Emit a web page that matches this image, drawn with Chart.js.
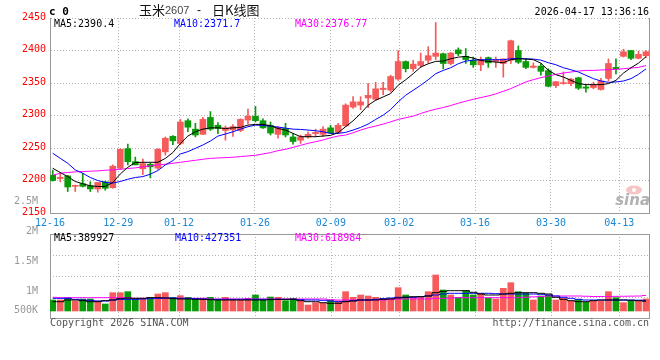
<!DOCTYPE html>
<html>
<head>
<meta charset="utf-8">
<script src="https://cdn.jsdelivr.net/npm/chart.js@4.4.1/dist/chart.umd.min.js"></script>
<style>
html,body{margin:0;padding:0;background:#fff;}
#wrap{position:relative;width:660px;height:360px;overflow:hidden;background:#fff;}
#wrap canvas{position:absolute;left:0;top:0;}
</style>
</head>
<body>
<div id="wrap">
<canvas id="pc" width="660" height="360"></canvas>
<canvas id="vc" width="660" height="360"></canvas>
</div>
<script>
// ---------------- data ----------------
const TITLE_NAME = '玉米';
const TITLE_CODE = '2607';
const TITLE_KIND = '日K线图';
const TIMESTAMP = '2026-04-17 13:36:16';

const DATE_TICK_LABELS = ['12-16','12-29','01-12','01-26','02-09','03-02','03-16','03-30','04-13'];
const DATE_TICK_INDEX  = [0, 9, 17, 27, 37, 46, 56, 66, 75];

const OPEN = [2208,2203,2207,2191,2195,2192,2187,2198,2189,2219,
 2249,2229,2218,2225,2219,2244,2268,2257,2292,2279,
 2271,2297,2285,2277,2278,2277,2293,2299,2292,2285,
 2271,2280,2267,2262,2267,2272,2271,2281,2274,2284,
 2313,2316,2327,2325,2340,2339,2356,2383,2372,2377,
 2385,2391,2395,2380,2401,2391,2385,2378,2389,2383,
 2380,2385,2400,2383,2374,2376,2369,2346,2349,2349,
 2358,2344,2343,2340,2357,2374,2391,2400,2388,2392];
const HIGH = [2216,2212,2208,2193,2211,2198,2197,2199,2224,2249,
 2256,2236,2233,2227,2249,2267,2269,2294,2295,2288,
 2297,2306,2289,2284,2286,2295,2310,2314,2295,2290,
 2283,2288,2272,2270,2275,2279,2283,2285,2288,2318,
 2329,2329,2349,2351,2351,2362,2400,2384,2385,2396,
 2406,2443,2396,2397,2404,2403,2390,2390,2390,2390,
 2387,2416,2407,2387,2381,2380,2372,2352,2367,2357,
 2359,2348,2351,2357,2387,2387,2402,2400,2399,2400];
const LOW = [2199,2198,2183,2183,2190,2183,2182,2185,2188,2217,
 2224,2224,2209,2204,2217,2239,2255,2255,2275,2267,
 2271,2277,2272,2262,2268,2275,2287,2290,2280,2270,
 2265,2267,2256,2257,2265,2267,2268,2272,2272,2283,
 2311,2309,2312,2323,2332,2336,2354,2367,2368,2374,
 2381,2386,2372,2378,2392,2380,2374,2369,2374,2374,
 2359,2380,2380,2372,2373,2362,2344,2343,2348,2346,
 2340,2336,2341,2339,2353,2364,2390,2386,2387,2389];
const CLOSE = [2200,2205,2190,2192,2191,2187,2197,2188,2222,2248,
 2229,2224,2226,2221,2248,2265,2261,2290,2282,2270,
 2294,2279,2280,2281,2283,2294,2299,2292,2281,2273,
 2281,2270,2260,2267,2271,2274,2279,2273,2285,2316,
 2321,2321,2331,2341,2342,2360,2383,2372,2379,2383,
 2392,2396,2380,2396,2395,2386,2378,2386,2381,2386,
 2387,2415,2382,2374,2376,2368,2345,2352,2350,2356,
 2342,2342,2347,2353,2380,2372,2398,2388,2394,2398];

const MA5 = [2218.9,2212.3,2206,2198.5,2195,2191.8,2190.8,2190.8,2197,2210,
 2220.4,2227.6,2228,2228,2228,2234,2243,2257,2268.4,2275,
 2279,2281,2281,2280,2281,2281.7,2285.2,2286.3,2286.3,2284.2,
 2280,2277.6,2272.5,2267.4,2267.4,2267.4,2268.4,2269.4,2273.5,2282.7,
 2291.9,2303,2315.8,2323.5,2328.6,2333.7,2346.5,2355,2364.3,2374.5,
 2379.6,2383.2,2383.7,2387.3,2389.8,2390.9,2388.3,2384.7,2383.2,2382.2,
 2381.2,2385.8,2387.3,2386.8,2385.8,2380.6,2369.4,2362.8,2359.2,2354.1,
 2349,2347.5,2347.5,2347.5,2349,2354.1,2365.3,2373.5,2380.6,2390.4];
const MA10 = [2241.9,2234.2,2226.5,2216.3,2211.2,2204.6,2200,2197,2196,2198.5,
 2202,2204.6,2206,2209.7,2215.3,2224,2230.6,2240.8,2244.4,2249.5,
 2254.6,2260.7,2268.4,2271.5,2275,2279,2282.7,2285.2,2284.7,2283.7,
 2282.2,2280.6,2279,2278.6,2277.6,2276.6,2275,2272.5,2272.5,2274,
 2277.6,2281.7,2286.8,2293.9,2300.5,2309.2,2321,2331.2,2338.8,2346.5,
 2355,2364.3,2369.4,2373.5,2379.6,2383.7,2385.2,2385.8,2385.8,2385.8,
 2385.8,2387.3,2387.8,2387.3,2386.8,2385.2,2381.2,2378.1,2373.5,2370.4,
 2366.9,2361.8,2356.7,2353.1,2351,2351.6,2353.1,2356.7,2363.3,2371.7];
const MA30 = [2208.2,2211.2,2212.3,2213.3,2213.8,2214.3,2214.8,2215.8,2216.3,2217.4,
 2218.4,2219.4,2221,2222.5,2224,2225,2226.5,2228,2229.6,2231.1,
 2232.7,2234,2234.7,2235.2,2235.8,2236.8,2237.8,2238.8,2240.8,2242.9,
 2245.9,2248,2251,2254.1,2257.2,2259.7,2262.3,2265.8,2268.4,2269.9,
 2273.5,2277.6,2281.1,2283.7,2286.8,2290.3,2293.9,2296.5,2299,2303.1,
 2306.7,2309.7,2312.3,2315.3,2318.9,2322,2325,2327.6,2330.1,2333.2,
 2337.3,2341.4,2346.5,2351.6,2355.1,2358.2,2360.8,2363.3,2365.3,2366.9,
 2368.4,2369.4,2369.4,2370,2370.5,2371,2372,2373,2374,2376.77];

const VOLUME = [440000,440000,533000,400000,480000,480000,400000,280000,733000,733000,
 773000,480000,480000,547000,680000,733000,547000,613000,547000,507000,
 507000,547000,440000,547000,440000,440000,507000,640000,440000,560000,
 547000,413000,507000,440000,240000,333000,307000,440000,400000,773000,
 547000,640000,600000,547000,507000,507000,933000,640000,547000,547000,
 773000,1440000,840000,640000,547000,813000,640000,707000,507000,480000,
 907000,1133000,773000,707000,440000,600000,640000,440000,507000,400000,
 467000,347000,400000,400000,773000,533000,333000,400000,400000,480000];
const VMA5 = [373000,373000,440000,440000,413000,373000,373000,413000,440000,493000,
 520000,507000,507000,533000,533000,520000,493000,480000,480000,467000,
 467000,453000,440000,440000,440000,440000,440000,440000,440000,453000,
 467000,467000,467000,413000,373000,373000,333000,307000,307000,373000,
 400000,440000,440000,440000,467000,480000,520000,547000,573000,573000,
 600000,733000,787000,813000,813000,813000,747000,680000,640000,640000,
 680000,707000,733000,733000,733000,707000,680000,547000,467000,413000,
 373000,373000,413000,440000,440000,440000,440000,427000,413000,389927];
const VMA10 = [507000,507000,507000,467000,440000,427000,400000,400000,440000,467000,
 467000,467000,480000,493000,507000,520000,520000,507000,507000,493000,
 480000,467000,467000,467000,467000,467000,467000,467000,467000,467000,
 467000,467000,467000,453000,440000,440000,427000,400000,373000,387000,
 413000,440000,440000,467000,493000,520000,547000,547000,547000,573000,
 600000,640000,680000,707000,707000,707000,707000,707000,707000,693000,
 680000,680000,680000,680000,680000,667000,640000,600000,547000,507000,
 467000,440000,440000,440000,440000,440000,440000,440000,433000,427351];
const VMA30 = [547000,533000,533000,533000,533000,533000,533000,533000,533000,533000,
 533000,507000,507000,507000,507000,507000,507000,507000,507000,507000,
 507000,480000,480000,480000,480000,480000,480000,480000,480000,480000,
 480000,480000,480000,480000,480000,480000,480000,453000,440000,440000,
 440000,440000,440000,440000,440000,460000,480000,480000,480000,480000,
 480000,507000,507000,520000,533000,533000,533000,533000,533000,533000,
 533000,533000,533000,547000,567000,580000,600000,600000,600000,600000,
 600000,590000,580000,580000,580000,585000,590000,595000,600000,618984];

const PRICE_MIN = 2150, PRICE_MAX = 2450, PRICE_STEP = 50;
const VOL_TICK_VALUES = [500000, 1000000, 1500000, 2000000, 2500000];
const VOL_TICK_LABELS = ['500K', '1M', '1.5M', '2M', '2.5M'];

// ---------------- styling / layout ----------------
const MONO = '"DejaVu Sans Mono", monospace';
const UP = '#f65a5a', DOWN = '#0a9a0a';
const GRID = '#b4b4b4', AXIS = '#999999';
const X_MIN = -0.36, X_MAX = 79.4, GRID_STRETCH = 1.0107;
const VOL_BOX_TOP = 234;
const tickValue = k => X_MIN + k * GRID_STRETCH;
const candleColors = OPEN.map((o, i) => CLOSE[i] >= o ? UP : DOWN);
const last = a => a[a.length - 1];

function txt(ctx, s, x, y, color, align, font) {
  ctx.save();
  ctx.font = font || ('10px ' + MONO);
  ctx.fillStyle = color;
  ctx.textAlign = align || 'left';
  ctx.textBaseline = 'middle';
  ctx.fillText(s, x, y);
  ctx.restore();
}

function xScaleOpts(display) {
  return {
    type: 'linear', min: X_MIN, max: X_MAX, offset: false, display: display,
    afterBuildTicks: s => { s.ticks = DATE_TICK_INDEX.map(k => ({ value: tickValue(k) })); },
    afterFit: s => { s.height = display ? 20 : 0; },
    ticks: {
      autoSkip: false, maxRotation: 0, padding: 4, color: '#1a88d4',
      font: { family: MONO, size: 10 },
      callback: (v, i) => DATE_TICK_LABELS[i]
    },
    grid: { color: GRID, drawTicks: false, offset: false },
    border: { color: AXIS, dash: [1, 2] }
  };
}

const priceDecor = {
  id: 'priceDecor',
  beforeDatasetsDraw(chart) {
    const { ctx, chartArea: a } = chart;
    ctx.save();
    ctx.fillStyle = 'rgba(240,150,150,0.55)';
    ctx.beginPath(); ctx.ellipse(a.right - 15, a.bottom - 23, 8, 4.5, 0, 0, Math.PI * 2); ctx.fill();
    ctx.fillStyle = '#fff';
    ctx.beginPath(); ctx.arc(a.right - 15, a.bottom - 23, 2, 0, Math.PI * 2); ctx.fill();
    ctx.font = 'italic bold 15px "DejaVu Sans"';
    ctx.fillStyle = 'rgba(165,165,165,0.85)';
    ctx.textAlign = 'right'; ctx.textBaseline = 'alphabetic';
    ctx.fillText('sina', a.right + 1, a.bottom - 8);
    ctx.restore();
  },
  afterDraw(chart) {
    const { ctx, chartArea: a } = chart;
    ctx.save();
    ctx.strokeStyle = AXIS; ctx.lineWidth = 1;
    ctx.beginPath(); ctx.moveTo(a.right + 0.5, a.top); ctx.lineTo(a.right + 0.5, a.bottom + 1); ctx.stroke();
    ctx.restore();
    // header
    txt(ctx, 'c 0', 49, 12, '#000', 'left', 'bold 11px ' + MONO);
    txt(ctx, TITLE_NAME, 139, 10, '#111', 'left', '13px "Noto Sans CJK SC"');
    txt(ctx, TITLE_CODE, 165, 11, '#444', 'left', '11px "Liberation Sans"');
    txt(ctx, '-', 197, 11, '#111', 'left', '12px "Liberation Sans"');
    txt(ctx, TITLE_KIND, 212, 10, '#111', 'left', '13px "Noto Sans CJK SC"');
    txt(ctx, TIMESTAMP, 649, 12, '#000', 'right');
    // MA legend
    txt(ctx, 'MA5:' + last(MA5), 54, 24.5, '#000');
    txt(ctx, 'MA10:' + last(MA10), 174, 24.5, '#0000ff');
    txt(ctx, 'MA30:' + last(MA30), 295, 24.5, '#ff00ff');
  }
};

const volDecor = {
  id: 'volDecor',
  beforeDatasetsDraw(chart) {
    const { ctx, chartArea: a } = chart;
    const xs = chart.scales.x;
    const top = VOL_BOX_TOP, bot = a.bottom;
    ctx.save();
    ctx.lineWidth = 1;
    ctx.strokeStyle = GRID; ctx.setLineDash([1, 2]);
    for (let k = 1; k < 4; k++) {
      const y = Math.round(top + (bot - top) * k / 4) + 0.5;
      ctx.beginPath(); ctx.moveTo(a.left, y); ctx.lineTo(a.right, y); ctx.stroke();
    }
    DATE_TICK_INDEX.forEach(k => {
      if (k === 0) return;
      const x = Math.round(xs.getPixelForValue(tickValue(k))) + 0.5;
      ctx.beginPath(); ctx.moveTo(x, top); ctx.lineTo(x, bot); ctx.stroke();
    });
    ctx.setLineDash([]);
    ctx.strokeStyle = AXIS;
    ctx.strokeRect(a.left + 0.5, top + 0.5, a.right - a.left, bot - top);
    ctx.restore();
  },
  afterDraw(chart) {
    const { ctx } = chart;
    txt(ctx, 'MA5:' + last(VMA5), 54, 238.5, '#000');
    txt(ctx, 'MA10:' + last(VMA10), 175, 238.5, '#0000ff');
    txt(ctx, 'MA30:' + last(VMA30), 295, 238.5, '#ff00ff');
    txt(ctx, 'Copyright 2026 SINA.COM', 50, 323.5, '#555');
    txt(ctx, 'http://finance.sina.com.cn', 649, 323.5, '#555', 'right');
  }
};

// ---------------- price chart ----------------
const xy = arr => arr.map((v, i) => ({ x: i, y: v }));

new Chart(document.getElementById('pc'), {
  type: 'bar',
  data: {
    datasets: [
      { type: 'line', label: 'MA5', data: xy(MA5), borderColor: '#000', borderWidth: 1, pointRadius: 0, tension: 0, order: 0 },
      { type: 'line', label: 'MA10', data: xy(MA10), borderColor: '#0000ff', borderWidth: 1, pointRadius: 0, tension: 0, order: 0 },
      { type: 'line', label: 'MA30', data: xy(MA30), borderColor: '#ff00ff', borderWidth: 1, pointRadius: 0, tension: 0, order: 0 },
      { type: 'bar', label: 'body', data: OPEN.map((o, i) => ({ x: i, y: [o, CLOSE[i]] })),
        backgroundColor: candleColors, borderWidth: 0, barThickness: 6, minBarLength: 1, grouped: false, order: 1 },
      { type: 'bar', label: 'wick', data: LOW.map((l, i) => ({ x: i, y: [l, HIGH[i]] })),
        backgroundColor: candleColors, borderWidth: 0, barThickness: 1, grouped: false, order: 2 }
    ]
  },
  options: {
    responsive: false, animation: false, devicePixelRatio: 1,
    layout: { padding: { left: 0, right: 11, top: 18, bottom: 127 } },
    plugins: { legend: { display: false }, tooltip: { enabled: false } },
    scales: {
      x: xScaleOpts(true),
      y: {
        type: 'linear', min: PRICE_MIN, max: PRICE_MAX,
        afterFit: s => { s.width = 50; },
        ticks: { stepSize: PRICE_STEP, color: '#ff0000', padding: 4, labelOffset: -1,
                 font: { family: MONO, size: 10 }, callback: v => String(v) },
        grid: { color: GRID, drawTicks: false },
        border: { color: AXIS, dash: [1, 2] }
      }
    }
  },
  plugins: [priceDecor]
});

// ---------------- volume chart ----------------
new Chart(document.getElementById('vc'), {
  type: 'bar',
  data: {
    datasets: [
      { type: 'line', data: xy(VMA5), yAxisID: 'v', borderColor: '#000', borderWidth: 1, pointRadius: 0, stepped: 'middle', order: 0 },
      { type: 'line', data: xy(VMA10), yAxisID: 'v', borderColor: '#0000ff', borderWidth: 1, pointRadius: 0, stepped: 'middle', order: 0 },
      { type: 'line', data: xy(VMA30), yAxisID: 'v', borderColor: '#ff00ff', borderWidth: 1, pointRadius: 0, stepped: 'middle', order: 0 },
      { type: 'bar', data: xy(VOLUME), yAxisID: 'v', backgroundColor: candleColors, borderWidth: 0,
        barThickness: 6, grouped: false, order: 1 }
    ]
  },
  options: {
    responsive: false, animation: false, devicePixelRatio: 1,
    layout: { padding: { left: 0, right: 11, top: 195, bottom: 42 } },
    plugins: { legend: { display: false }, tooltip: { enabled: false } },
    scales: {
      x: xScaleOpts(false),
      v: { type: 'linear', display: false, min: -280000, max: 4640000 },
      yl: {
        type: 'linear', position: 'left', min: 550000, max: 2600000,
        afterFit: s => { s.width = 50; },
        afterBuildTicks: s => {
          const floor = s.min + (s.max - s.min) * 0.065;
          s.ticks = VOL_TICK_VALUES.map(v => ({ value: Math.max(v, floor) }));
        },
        ticks: { autoSkip: false, color: '#999', padding: 4, font: { family: MONO, size: 10 },
                 callback: (v, i) => VOL_TICK_LABELS[i] },
        grid: { display: false },
        border: { display: false }
      }
    }
  },
  plugins: [volDecor]
});
</script>
</body>
</html>
